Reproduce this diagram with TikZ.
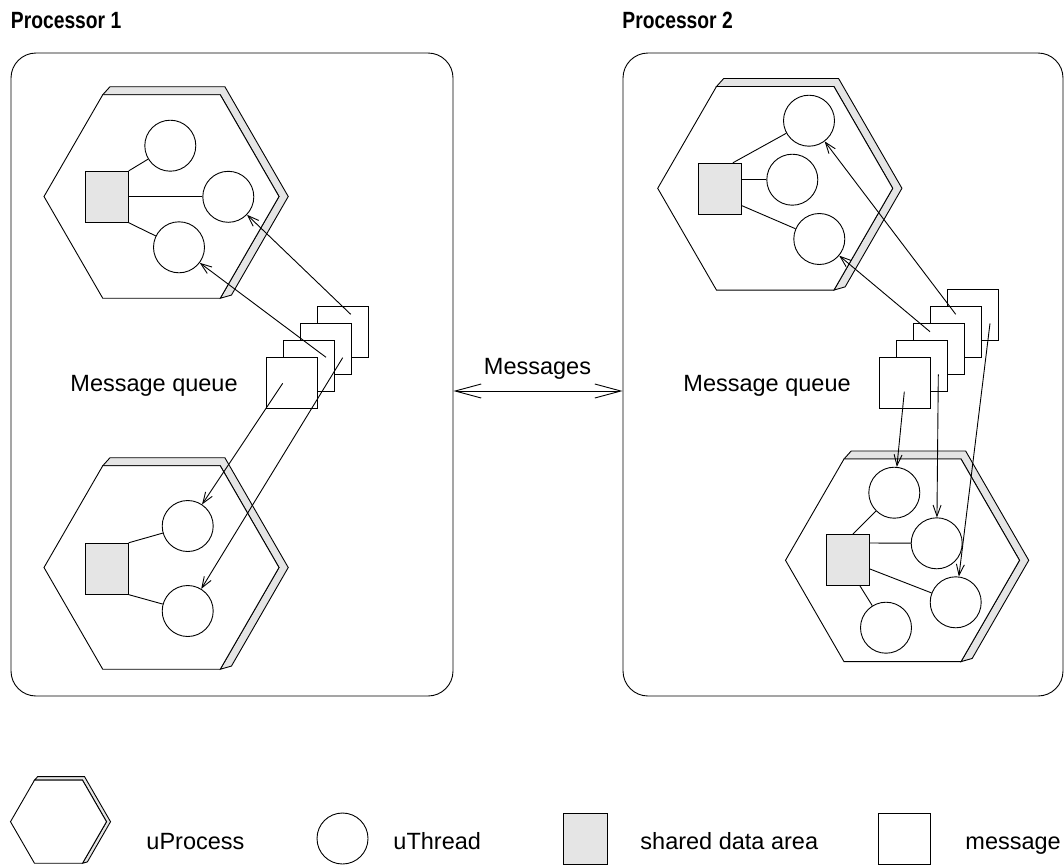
\documentclass[tikz,border=0pt]{standalone}
\usepackage{fontspec}
\setmainfont{Liberation Sans}
\newfontfamily\titlefont[FakeStretch=0.82]{Liberation Sans Bold}
\usetikzlibrary{arrows.meta}
\definecolor{shadegray}{HTML}{E5E5E5}
\tikzset{
  every path/.style={line width=0.9pt},
  procbox/.style={draw, rounded corners=25pt, inner sep=0pt},
  thread/.style={draw, circle, fill=white, minimum size=51pt, inner sep=0pt},
  shared/.style={draw, fill=shadegray, minimum width=43pt, minimum height=51pt, inner sep=0pt},
  msgbox/.style={draw, fill=white, minimum width=51pt, minimum height=51pt, inner sep=0pt},
  hexshadow/.style={draw, fill=shadegray, line join=miter},
  hexline/.style={draw, fill=white, line join=miter},
  msgarrow/.style={-{Straight Barb[length=11pt,width=8pt]}},
  bigarrow/.style={{Straight Barb[length=26pt,width=14pt]}-{Straight Barb[length=26pt,width=14pt]}},
  lbl/.style={font=\fontsize{23.5}{28}\selectfont, inner sep=0pt},
  ttl/.style={font=\titlefont\fontsize{23.5}{28}\selectfont, inner sep=0pt},
}
\newcommand\uproc[4]{%
  \begin{scope}[shift={(#1,#2)}]
    \pgfmathsetmacro\hxR{#3}
    \pgfmathsetmacro\hxh{0.866*#3}
    \pgfmathsetmacro\hxw{0.5*#3}
    \pgfmathsetmacro\hxd{#4}
    \draw[hexshadow] (-\hxw,-\hxh) -- (-\hxw+0.9*\hxd,-\hxh-\hxd) -- (\hxw+0.58*\hxd,-\hxh-\hxd)
      -- (\hxR+1.155*\hxd,0) -- (\hxw+1.4*\hxd,\hxh-0.4*\hxd) -- (\hxw,\hxh) -- (\hxR,0) -- (\hxw,-\hxh) -- cycle;
    \draw[hexline] (-\hxw,-\hxh) -- (\hxw,-\hxh) -- (\hxR,0) -- (\hxw,\hxh) -- (-\hxw,\hxh) -- (-\hxR,0) -- cycle;
  \end{scope}}
\begin{document}
\begin{tikzpicture}[x=1pt,y=-1pt]
\useasboundingbox (0,0) rectangle (1064,865);

% titles
\node[ttl, anchor=base west] (t1) at (10.5,28) {Processor 1};
\node[ttl, anchor=base west] (t2) at (622,28) {Processor 2};

% processor boxes
\node[procbox, minimum width=442pt, minimum height=643pt] (p1) at (232,374.5) {};
\node[procbox, minimum width=440pt, minimum height=643pt] (p2) at (843,374.5) {};

% uProcesses
\uproc{161.5}{196.5}{117.5}{8}
\uproc{161.5}{567.5}{117.5}{8}
\uproc{775.2}{188.3}{117.5}{8}
\uproc{902.5}{560.3}{117}{8}

% shared data areas
\node[shared] (s1) at (106.8,196.8) {};
\node[shared] (s2) at (106.8,568.7) {};
\node[shared] (s3) at (720,188.7) {};
\node[shared] (s4) at (848,560) {};

% uThreads
\node[thread] (c1) at (170.3,145.7) {};
\node[thread] (c2) at (228.3,196.8) {};
\node[thread] (c3) at (179,247.3) {};
\node[thread] (c4) at (187.7,526) {};
\node[thread] (c5) at (187.7,611) {};
\node[thread] (c6) at (809,120.7) {};
\node[thread] (c7) at (792.3,179.7) {};
\node[thread] (c8) at (819.3,239) {};
\node[thread] (c9) at (894.3,492.7) {};
\node[thread] (c10) at (936.7,543.3) {};
\node[thread] (c11) at (955.7,602.3) {};
\node[thread] (c12) at (886,627.7) {};

% links shared area -> threads
\draw (s1.north east) -- (c1);
\draw (s1.east) -- (c2);
\draw (s1.south east) -- (c3);
\draw (s2.north east) -- (c4);
\draw (s2.south east) -- (c5);
\draw ([xshift=-9pt]s3.north east) -- (c6);
\draw ([yshift=9pt]s3.east) -- (c7);
\draw ([yshift=-17pt]s3.east) -- (c8);
\draw ([xshift=5pt]s4.north) -- (c9);
\draw ([yshift=17pt]s4.east) -- (c10);
\draw ([yshift=-9pt]s4.east) -- (c11);
\draw ([xshift=12pt]s4.south) -- (c12);

% message queues
\node[msgbox] (m4) at (342.5,331.5) {};
\node[msgbox] (m3) at (325.5,348.5) {};
\node[msgbox] (m2) at (308.5,365.5) {};
\node[msgbox] (m1) at (291.5,382.5) {};
\node[msgbox] (n5) at (972.5,314.5) {};
\node[msgbox] (n4) at (955.5,331.5) {};
\node[msgbox] (n3) at (938.5,348.5) {};
\node[msgbox] (n2) at (921.5,365.5) {};
\node[msgbox] (n1) at (904.5,382.5) {};

\node[lbl, anchor=base west] (q1) at (70,391) {Message queue};
\node[lbl, anchor=base west] (q2) at (683,391) {Message queue};

% message arrows
\coordinate (a4) at (350.7,314.3);
\coordinate (a3) at (326,357.3);
\coordinate (a1) at (282.7,383.3);
\coordinate (a2) at (342.7,357.7);
\coordinate (b4) at (955.7,314.3);
\coordinate (b3) at (930,331.7);
\coordinate (b1) at (904.3,391.7);
\coordinate (b2) at (938.3,374.3);
\coordinate (b5) at (990,323.3);
\draw[msgarrow] (a4) -- (c2);
\draw[msgarrow] (a3) -- (c3);
\draw[msgarrow] (a1) -- (c4);
\draw[msgarrow] (a2) -- (c5);
\draw[msgarrow] (b4) -- (c6);
\draw[msgarrow] (b3) -- (c8);
\draw[msgarrow] (b1) -- (c9);
\draw[msgarrow] (b2) -- (c10);
\draw[msgarrow] (b5) -- (c11);

% messages between processors
\coordinate (e1) at (p1.east |- 0,391);
\coordinate (e2) at (p2.west |- 0,391);
\draw[bigarrow] (e1) -- (e2);
\node[lbl, anchor=base] (msgs) at (537.5,374.3) {Messages};

% legend
\uproc{58.5}{821.7}{48}{3.5}
\node[lbl, anchor=base west] (l1) at (146,849) {uProcess};
\node[thread] (lc) at (342.5,838.5) {};
\node[lbl, anchor=base west] (l2) at (393,849) {uThread};
\node[shared, minimum width=44pt] (ls) at (585,838.5) {};
\node[lbl, anchor=base west] (l3) at (640,849) {shared data area};
\node[msgbox, minimum width=52pt] (lm) at (904,838.5) {};
\node[lbl, anchor=base west] (l4) at (965,849) {message};
\end{tikzpicture}
\end{document}
